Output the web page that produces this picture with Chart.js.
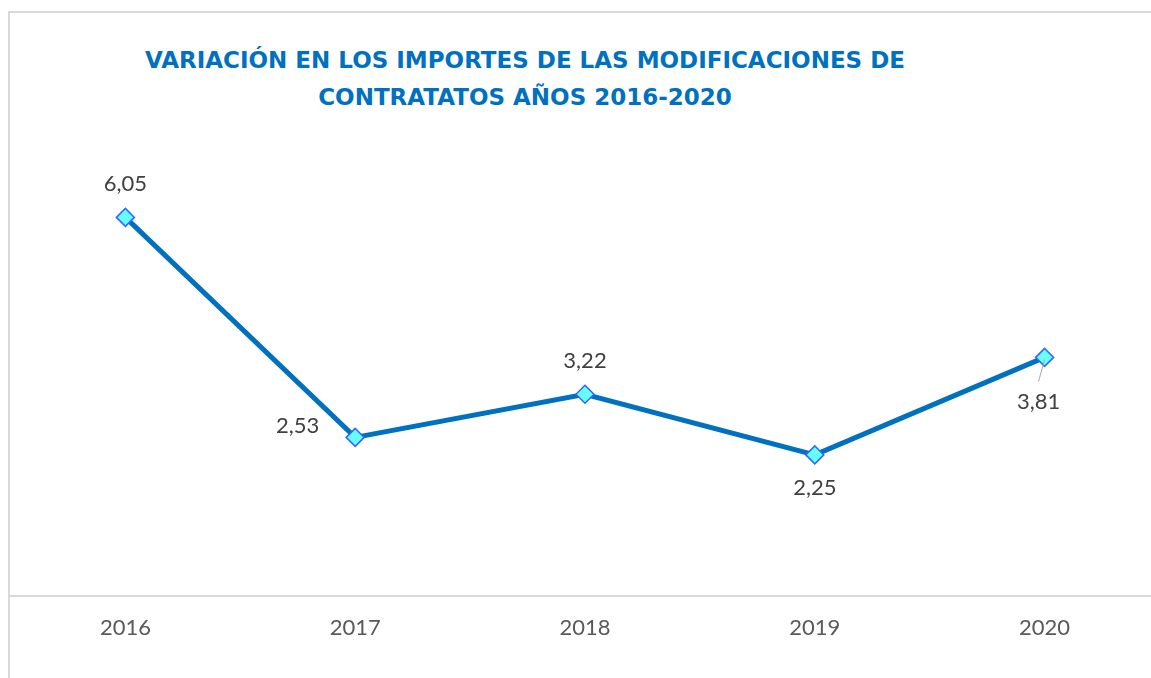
<!DOCTYPE html>
<html>
<head>
<meta charset="utf-8">
<script src="https://cdn.jsdelivr.net/npm/chart.js@4.4.1/dist/chart.umd.min.js"></script>
<style>
  html, body { margin: 0; padding: 0; background: #fff; overflow: hidden; }
  body { width: 1151px; height: 678px; position: relative; }
  #frame {
    position: absolute; left: 8px; top: 11px; width: 1200px; height: 700px;
    border-left: 2px solid #d9d9d9; border-top: 2px solid #d9d9d9;
  }
  #title {
    position: absolute; left: 130px; top: 42px; width: 790px;
    text-align: center; color: #0070c0;
    font-family: "DejaVu Sans", sans-serif; font-weight: bold;
    font-size: 23px; line-height: 37px;
  }
  #wrap { position: absolute; left: 0; top: 0; width: 1170px; height: 678px; }
  #chart { display: block; width: 1170px; height: 678px; }
</style>
</head>
<body>
<div id="frame"></div>
<div id="title">VARIACIÓN EN LOS IMPORTES DE LAS MODIFICACIONES DE<br>CONTRATATOS AÑOS 2016-2020</div>
<div id="wrap"><canvas id="chart" width="1170" height="678"></canvas></div>
<script>
// data
const years = ["2016", "2017", "2018", "2019", "2020"];
const importes = [6.05, 2.53, 3.22, 2.25, 3.81];
// where each value label sits relative to its point
const labelPos = ["top", "left", "top", "bottom", "bottom"];

const canvas = document.getElementById('chart');

// value labels with comma decimals
const valueLabels = {
  id: 'valueLabels',
  afterDatasetsDraw(chart) {
    const ctx = chart.ctx;
    const meta = chart.getDatasetMeta(0);
    ctx.save();
    ctx.font = '22px Lato, "DejaVu Sans", sans-serif';
    ctx.fillStyle = '#404040';
    meta.data.forEach((pt, i) => {
      const txt = importes[i].toFixed(2).replace('.', ',');
      let x = pt.x, y = pt.y;
      ctx.textAlign = 'center';
      ctx.textBaseline = 'middle';
      if (labelPos[i] === 'top') {
        y -= 33;
      } else if (labelPos[i] === 'bottom') {
        y += 33;
      } else if (labelPos[i] === 'left') {
        x -= 36; y -= 11;
        ctx.textAlign = 'right';
      }
      if (i === 4) {
        // leader line to the label below the last point
        ctx.strokeStyle = '#a6a6a6';
        ctx.lineWidth = 1;
        ctx.beginPath();
        ctx.moveTo(pt.x, pt.y + 2);
        ctx.lineTo(pt.x - 6, pt.y + 24);
        ctx.stroke();
        x -= 6; y += 12;
      }
      ctx.fillText(txt, x, y);
    });
    ctx.restore();
  }
};

const chart = new Chart(canvas, {
  type: 'line',
  data: {
    labels: years,
    datasets: [{
      data: importes,
      borderColor: '#0070c0',
      borderWidth: 5,
      pointStyle: 'rectRot',
      pointRadius: 9,
      pointHoverRadius: 9,
      pointBackgroundColor: '#66ffff',
      pointBorderColor: '#3366ff',
      pointBorderWidth: 1.5,
      tension: 0
    }]
  },
  options: {
    responsive: false,
    maintainAspectRatio: false,
    animation: false,
    devicePixelRatio: 1,
    layout: { padding: { left: 9, right: 0, top: 95.5, bottom: 0 } },
    scales: {
      x: {
        offset: true,
        grid: { display: false, drawTicks: false },
        border: { display: true, color: '#d9d9d9', width: 2 },
        ticks: {
          color: '#595959',
          font: { family: 'Lato, "DejaVu Sans", sans-serif', size: 22 },
          padding: 19
        },
        afterFit(scale) { scale.height = 82.5; }
      },
      y: {
        display: false,
        min: 0,
        max: 8
      }
    },
    plugins: {
      legend: { display: false },
      tooltip: { enabled: false }
    }
  },
  plugins: [valueLabels]
});
</script>
</body>
</html>
